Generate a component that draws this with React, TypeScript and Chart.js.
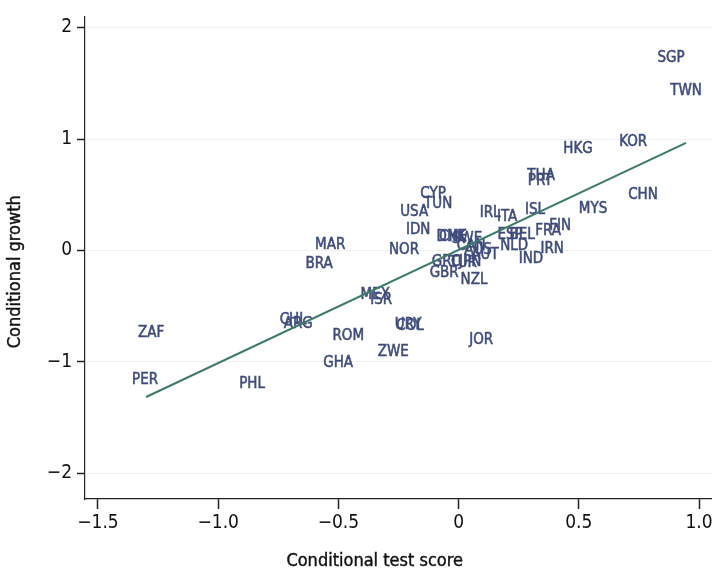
import React, { useEffect, useRef } from "react";
import { Chart, registerables } from "chart.js";

Chart.register(...registerables);

const countries = [
  "SGP", "TWN", "HKG", "KOR", "THA", "PRT", "CHN", "MYS", "ISL", "FIN",
  "FRA", "IRN", "IND", "CYP", "TUN", "USA", "IDN", "IRL", "ITA", "ESP",
  "BEL", "NLD", "MAR", "BRA", "NOR", "DNK", "CHE", "SWE", "CAN", "AUS",
  "AUT", "JPN", "GRC", "TUR", "GBR", "NZL", "MEX", "ISR", "CHL", "ARG",
  "URY", "COL", "ROM", "ZWE", "GHA", "JOR", "ZAF", "PER", "PHL",
];
const testScore = [
  0.884, 0.946, 0.497, 0.726, 0.343, 0.339, 0.767, 0.559, 0.318, 0.422,
  0.372, 0.389, 0.301, -0.106, -0.085, -0.185, -0.168, 0.131, 0.202, 0.214,
  0.264, 0.231, -0.534, -0.58, -0.227, -0.031, -0.023, 0.035, 0.052, 0.081,
  0.11, 0.048, -0.052, 0.019, -0.06, 0.064, -0.347, -0.322, -0.688, -0.667,
  -0.21, -0.202, -0.459, -0.272, -0.501, 0.094, -1.279, -1.304, -0.859,
];
const growth = [
  1.727, 1.432, 0.913, 0.975, 0.671, 0.626, 0.501, 0.367, 0.358, 0.215,
  0.17, 0.009, -0.081, 0.51, 0.412, 0.34, 0.179, 0.331, 0.295, 0.134,
  0.134, 0.036, 0.045, -0.125, 0.0, 0.116, 0.116, 0.098, 0.036, 0.0,
  -0.045, -0.107, -0.107, -0.116, -0.206, -0.268, -0.403, -0.447, -0.626, -0.662,
  -0.671, -0.68, -0.77, -0.913, -1.011, -0.805, -0.743, -1.163, -1.199,
];
const fitX = [-1.3, 0.946];
const fitY = [-1.315, 0.966];
const xTicks = [-1.5, -1.0, -0.5, 0, 0.5, 1.0];
const yTicks = [-2, -1, 0, 1, 2];
const xTitle = "Conditional test score";
const yTitle = "Conditional growth";

const FONT = "'DejaVu Sans Condensed', 'Liberation Sans Narrow', Arial, sans-serif";

const fmtX = (v: number) => (v === 0 ? "0" : (v < 0 ? "\u2212" : "") + Math.abs(v).toFixed(1));
const fmtY = (v: number) => (v === 0 ? "0" : (v < 0 ? "\u2212" : "") + Math.abs(v).toFixed(0));

const labelPlugin = {
  id: "countryLabels",
  beforeDatasetsDraw(chart: any) {
    const meta = chart.getDatasetMeta(0);
    const ctx = chart.ctx;
    ctx.save();
    ctx.font = "15px " + FONT;
    ctx.fillStyle = "#3f4b7c";
    ctx.strokeStyle = "#3f4b7c";
    ctx.lineWidth = 0.5;
    ctx.textAlign = "center";
    ctx.textBaseline = "middle";
    meta.data.forEach((pt: any, i: number) => {
      ctx.fillText(countries[i], pt.x, pt.y);
      ctx.strokeText(countries[i], pt.x, pt.y);
    });
    ctx.restore();
  },
};

const titlePlugin = {
  id: "axisTitles",
  afterDraw(chart: any) {
    const ctx = chart.ctx;
    const a = chart.chartArea;
    ctx.save();
    ctx.font = "18px " + FONT;
    ctx.fillStyle = "#111";
    ctx.strokeStyle = "#111";
    ctx.lineWidth = 0.4;
    ctx.textAlign = "center";
    ctx.textBaseline = "middle";
    const tx = a.left + (a.right - a.left) * 0.462;
    const ty = chart.height - 14;
    ctx.fillText(xTitle, tx, ty);
    ctx.strokeText(xTitle, tx, ty);
    ctx.translate(15, (a.top + a.bottom) / 2 + 14);
    ctx.rotate(-Math.PI / 2);
    ctx.fillText(yTitle, 0, 0);
    ctx.strokeText(yTitle, 0, 0);
    ctx.restore();
  },
};

export default function App() {
  const ref = useRef<HTMLCanvasElement>(null);
  useEffect(() => {
    if (!ref.current) return;
    const chart = new Chart(ref.current, {
      type: "scatter",
      data: {
        datasets: [
          {
            label: "countries",
            data: countries.map((_, i) => ({ x: testScore[i], y: growth[i] })),
            pointRadius: 0,
            showLine: false,
          },
          {
            type: "line",
            label: "fit",
            data: fitX.map((x, i) => ({ x, y: fitY[i] })),
            borderColor: "#3e7a68",
            borderWidth: 2,
            pointRadius: 0,
            showLine: true,
            fill: false,
          } as any,
        ],
      },
      plugins: [labelPlugin, titlePlugin],
      options: {
        responsive: false,
        animation: false,
        layout: { padding: { top: 15, right: 0, left: 0, bottom: 0 } },
        plugins: { legend: { display: false }, tooltip: { enabled: false } },
        scales: {
          x: {
            type: "linear",
            min: -1.554,
            max: 1.054,
            afterBuildTicks: (s: any) => {
              s.ticks = xTicks.map((v) => ({ value: v }));
            },
            afterFit: (s: any) => {
              s.height = 76;
              s.paddingRight = 0;
              s.paddingLeft = 0;
            },
            ticks: {
              callback: (v: any) => fmtX(Number(v)),
              color: "#111",
              font: { family: FONT, size: 19 },
              padding: 3,
              maxRotation: 0,
              autoSkip: false,
            },
            grid: {
              drawOnChartArea: false,
              tickLength: 10,
              tickColor: "#222",
              tickWidth: 1.5,
            },
            border: { color: "#222", width: 1.2 },
          },
          y: {
            type: "linear",
            min: -2.23,
            max: 2.1,
            afterBuildTicks: (s: any) => {
              s.ticks = yTicks.map((v) => ({ value: v }));
            },
            afterFit: (s: any) => {
              s.width = 85;
            },
            ticks: {
              callback: (v: any) => fmtY(Number(v)),
              color: "#111",
              font: { family: FONT, size: 19 },
              padding: 5,
              autoSkip: false,
            },
            grid: {
              color: "#f1f1f1",
              tickLength: 8,
              tickColor: "#222",
              tickWidth: 1.5,
            },
            border: { color: "#222", width: 1.2 },
          },
        },
      },
    });
    return () => chart.destroy();
  }, []);
  return (
    <div style={{ position: "fixed", left: 0, top: 0, width: 712, height: 575, background: "#fff" }}>
      <canvas ref={ref} width={712} height={575} />
    </div>
  );
}
